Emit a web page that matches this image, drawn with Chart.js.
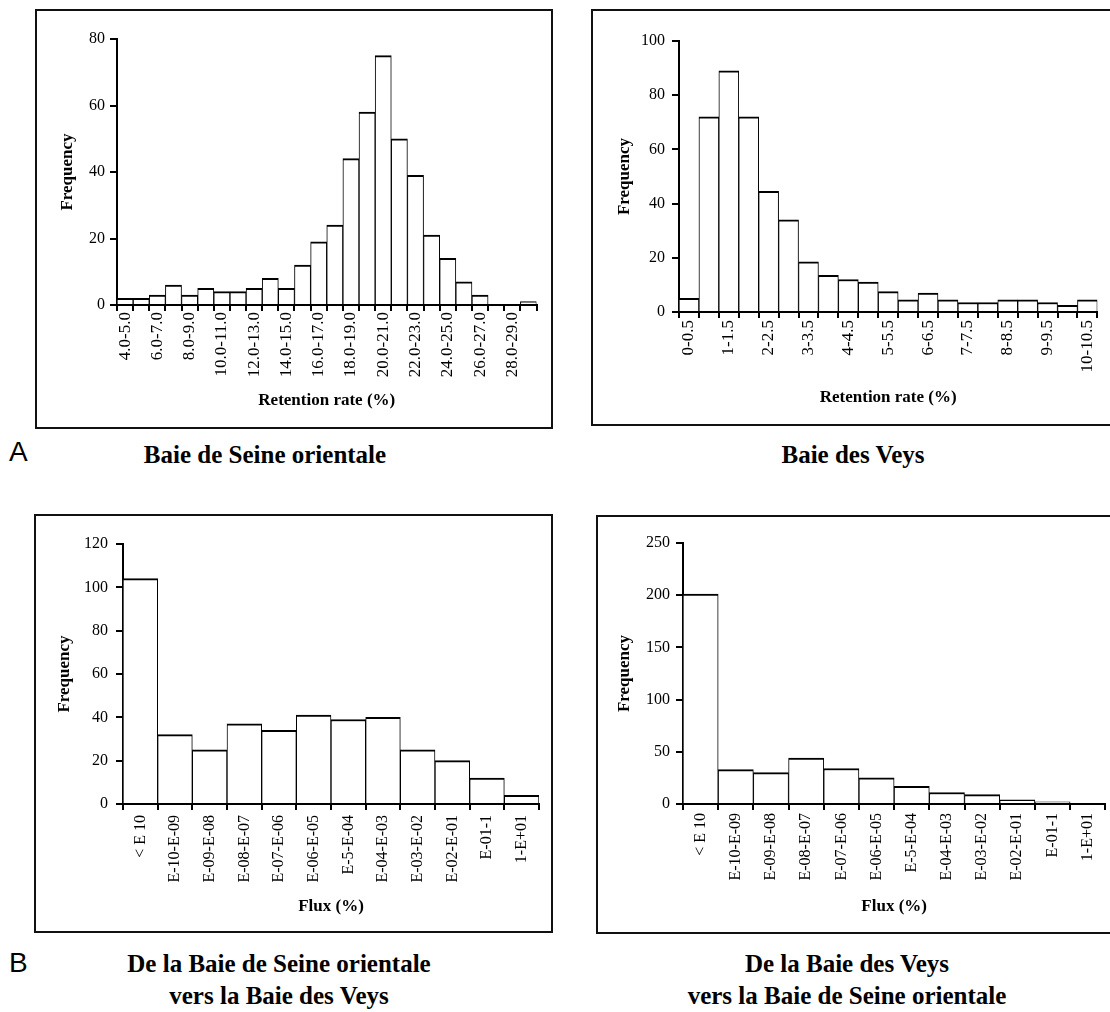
<!DOCTYPE html>
<html><head><meta charset="utf-8">
<script src="https://cdn.jsdelivr.net/npm/chart.js@4"></script>
<style>
html,body{margin:0;padding:0;background:#fff;width:1110px;height:1012px;overflow:hidden;position:relative;}
.box{position:absolute;border:2px solid #111;box-sizing:border-box;}
canvas{position:absolute;}
.t{position:absolute;width:400px;font-family:'Liberation Serif','Times New Roman',serif;font-weight:bold;font-size:25px;line-height:32px;text-align:center;white-space:nowrap;color:#000;}
.lab{position:absolute;font-family:'Liberation Sans',Arial,sans-serif;font-size:28px;line-height:28px;color:#000;}
</style></head><body>
<div class="box" style="left:35px;top:9px;width:518px;height:420px"></div>
<div class="box" style="left:591px;top:9px;width:540px;height:417px"></div>
<div class="box" style="left:34px;top:514px;width:519px;height:419px"></div>
<div class="box" style="left:596px;top:515px;width:540px;height:419px"></div>
<canvas id="c1" width="512" height="414" style="left:38px;top:12px"></canvas>
<canvas id="c2" width="516" height="411" style="left:594px;top:12px"></canvas>
<canvas id="c3" width="513" height="413" style="left:37px;top:517px"></canvas>
<canvas id="c4" width="512" height="414" style="left:598px;top:517px"></canvas>
<div class="lab" style="left:9px;top:438px">A</div>
<div class="t" style="left:65px;top:439px">Baie de Seine orientale</div>
<div class="t" style="left:653px;top:439px">Baie des Veys</div>
<div class="lab" style="left:9px;top:949px">B</div>
<div class="t" style="left:79px;top:948px">De la Baie de Seine orientale<br>vers la Baie des Veys</div>
<div class="t" style="left:647px;top:948px">De la Baie des Veys<br>vers la Baie de Seine orientale</div>
<script>
// ---- data ----
const seineBins = ['4.0-5.0','5.0-6.0','6.0-7.0','7.0-8.0','8.0-9.0','9.0-10.0','10.0-11.0','11.0-12.0','12.0-13.0','13.0-14.0','14.0-15.0','15.0-16.0','16.0-17.0','17.0-18.0','18.0-19.0','19.0-20.0','20.0-21.0','21.0-22.0','22.0-23.0','23.0-24.0','24.0-25.0','25.0-26.0','26.0-27.0','27.0-28.0','28.0-29.0','29.0-30.0'];
const seineFreq = [2,2,3,6,3,5,4,4,5,8,5,12,19,24,44,58,75,50,39,21,14,7,3,0,0,1];

const veysBins = ['0-0.5','0.5-1','1-1.5','1.5-2','2-2.5','2.5-3','3-3.5','3.5-4','4-4.5','4.5-5','5-5.5','5.5-6','6-6.5','6.5-7','7-7.5','7.5-8','8-8.5','8.5-9','9-9.5','9.5-10','10-10.5'];
const veysFreq = [5,72,89,72,44.5,34,18.5,13.5,12,11,7.5,4.5,7,4.5,3.5,3.5,4.5,4.5,3.5,2.5,4.5];

const fluxBins = ['< E 10','E-10-E-09','E-09-E-08','E-08-E-07','E-07-E-06','E-06-E-05','E-5-E-04','E-04-E-03','E-03-E-02','E-02-E-01','E-01-1','1-E+01'];
const fluxSeineToVeys = [104,32,25,37,34,41,39,40,25,20,12,4];
const fluxVeysToSeine = [201,33,30,44,34,25,17,11,9,4,2,0];

const retentionTitle = 'Retention rate (%)';
const fluxTitle = 'Flux (%)';
const freqTitle = 'Frequency';

const SERIF = "'Liberation Serif','Times New Roman',serif";

function makeChart(id, cats, vals, o) {
  new Chart(document.getElementById(id), {
    type: 'bar',
    data: { labels: cats, datasets: [{ data: vals, backgroundColor: '#fff', borderColor: '#000',
      borderWidth: {top: 2, left: 1, right: 1, bottom: 0}, borderSkipped: 'start',
      categoryPercentage: 1, barPercentage: 1 }] },
    options: {
      responsive: false, animation: false, devicePixelRatio: 1,
      layout: { padding: { top: o.top, right: o.right, left: 0, bottom: 0 } },
      plugins: { legend: { display: false }, tooltip: { enabled: false } },
      scales: {
        x: {
          offset: true, z: 1,
          grid: { offset: true, drawOnChartArea: false, drawTicks: true, tickLength: 6, color: '#000', lineWidth: 2 },
          border: { display: true, color: '#000', width: 2 },
          ticks: { autoSkip: false, maxRotation: 90, minRotation: 90, padding: o.xPad, color: '#000',
            font: { family: SERIF, size: o.xFont },
            callback: function (v, i) { return i % o.every === 0 ? cats[i] : ''; } },
          title: { display: true, text: o.xTitle, color: '#000', font: { family: SERIF, size: 17, weight: 'bold' },
            padding: { top: 0, bottom: o.xTitlePad } },
          afterFit: function (s) { s.height = o.xH; }
        },
        y: {
          min: 0, max: o.max, z: 1,
          grid: { drawOnChartArea: false, tickLength: 7, color: '#000', lineWidth: 2 },
          border: { display: true, color: '#000', width: 2 },
          ticks: { stepSize: o.step, padding: o.yPad, color: '#000', font: { family: SERIF, size: 16 } },
          title: { display: true, text: freqTitle, color: '#000', font: { family: SERIF, size: 17, weight: 'bold' },
            padding: { top: o.yTitlePad, bottom: 0 } },
          afterFit: function (s) { s.width = o.yW; }
        }
      }
    }
  });
}

makeChart('c1', seineBins, seineFreq, {top:27,right:8,xH:121,yW:79,max:80,step:20,xPad:1,yPad:5,xFont:17,every:2,xTitle:retentionTitle,xTitlePad:14.8,yTitlePad:19.8});
makeChart('c2', veysBins, veysFreq, {top:29,right:7,xH:111,yW:85,max:100,step:20,xPad:2,yPad:7,xFont:17,every:2,xTitle:retentionTitle,xTitlePad:14.8,yTitlePad:20.8});
makeChart('c3', fluxBins, fluxSeineToVeys, {top:27,right:11,xH:126,yW:86,max:120,step:20,xPad:5,yPad:8,xFont:16,every:1,xTitle:fluxTitle,xTitlePad:12.8,yTitlePad:17.8});
makeChart('c4', fluxBins, fluxVeysToSeine, {top:26,right:3,xH:127,yW:85,max:250,step:50,xPad:3,yPad:6,xFont:16,every:1,xTitle:fluxTitle,xTitlePad:13.8,yTitlePad:16.8});
</script>
</body></html>
